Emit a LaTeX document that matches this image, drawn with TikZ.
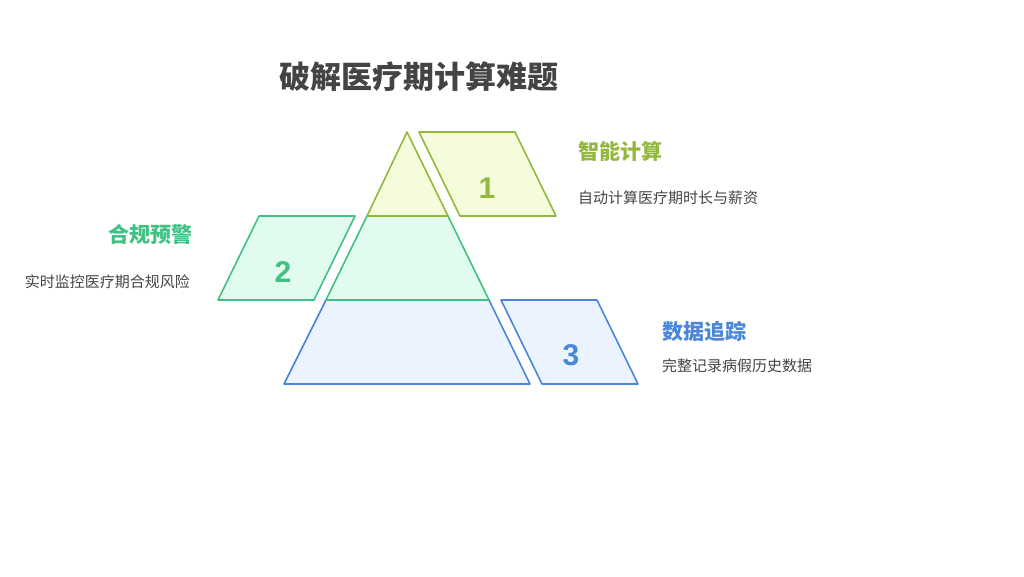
\documentclass[tikz,border=0pt]{standalone}
\usepackage{fontspec}
\setmainfont{Noto Sans CJK SC}
\newfontfamily\digitfont{Liberation Sans}
\definecolor{gA}{HTML}{93B83F}
\definecolor{gAf}{HTML}{F4FCDB}
\definecolor{gB}{HTML}{40C083}
\definecolor{gBf}{HTML}{E2FBEF}
\definecolor{bC}{HTML}{4A86D9}
\definecolor{bCf}{HTML}{EBF3FE}
\definecolor{txt}{HTML}{444444}
\begin{document}
\begin{tikzpicture}[x=1pt,y=-1pt,
  shp/.style={line width=1.6pt,line join=round},
  num/.style={font=\digitfont\fontsize{30}{30}\selectfont\bfseries},
  head/.style={font=\fontsize{21}{21}\selectfont\bfseries,inner sep=0pt},
  desc/.style={font=\fontsize{15}{15}\selectfont,text=txt,inner sep=0pt}]
\useasboundingbox (0,0) rectangle (1024,576);
% pyramid
\draw[shp,draw=bC,fill=bCf] (326,300) -- (489,300) -- (530,384) -- (284,384) -- cycle;
\draw[shp,draw=gB,fill=gBf] (367,216) -- (448,216) -- (489,300) -- (326,300) -- cycle;
\draw[shp,draw=gA,fill=gAf] (407,132) -- (448,216) -- (367,216) -- cycle;
% parallelograms
\draw[shp,draw=gA,fill=gAf] (419,132) -- (515,132) -- (556,216) -- (460,216) -- cycle;
\draw[shp,draw=gB,fill=gBf] (259,216) -- (355,216) -- (314,300) -- (218,300) -- cycle;
\draw[shp,draw=bC,fill=bCf] (501,300) -- (597,300) -- (638,384) -- (542,384) -- cycle;
\node[num,text=gA] (n1) at (487,188) {1};
\node[num,text=gB] (n2) at (283,272) {2};
\node[num,text=bC] (n3) at (571,355) {3};
% title
\node[font=\fontsize{31}{31}\selectfont\bfseries,text=txt] (title) at (419,77) {破解医疗期计算难题};
% labels
\node[head,text=gA,anchor=west] (h1) at (578,151) {智能计算};
\node[desc,anchor=west] (d1) at (578,198) {自动计算医疗期时长与薪资};
\node[head,text=gB,anchor=east] (h2) at (193,235) {合规预警};
\node[desc,anchor=east] (d2) at (190,282) {实时监控医疗期合规风险};
\node[head,text=bC,anchor=west] (h3) at (662,331) {数据追踪};
\node[desc,anchor=west] (d3) at (662,366) {完整记录病假历史数据};
\end{tikzpicture}
\end{document}
